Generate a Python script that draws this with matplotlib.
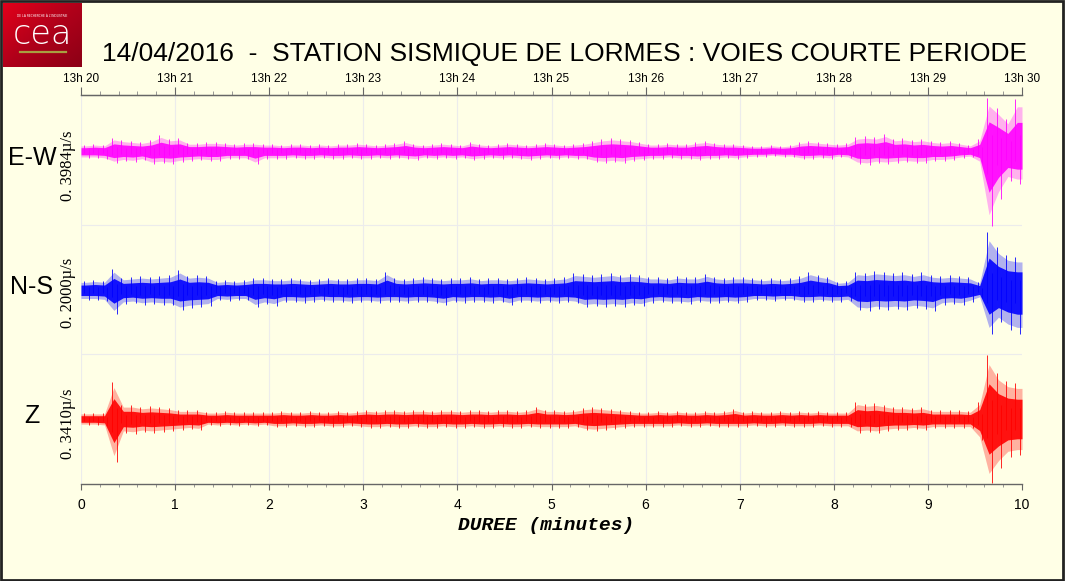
import numpy as np
import matplotlib
matplotlib.use("Agg")
import matplotlib.pyplot as plt
from matplotlib.patches import Rectangle

# envelope of each trace, read per 0.1 min step (display units, + up / - down)
ew_hi = [6, 7, 6, 13, 11, 10, 9, 11, 16, 12,
         13, 8, 8, 9, 9, 8, 7, 8, 8, 7,
         7, 6, 7, 7, 6, 7, 6, 7, 7, 8,
         7, 6, 7, 8, 10, 7, 6, 7, 8, 7,
         6, 9, 7, 6, 7, 8, 7, 6, 7, 8,
         7, 6, 7, 8, 10, 12, 13, 12, 11, 9,
         7, 7, 8, 7, 7, 9, 10, 8, 7, 7,
         6, 5, 5, 6, 5, 6, 9, 10, 9, 8,
         7, 8, 14, 15, 14, 17, 12, 13, 11, 12,
         10, 9, 10, 8, 6, 12, 53, 43, 32, 52]
ew_lo = [7, 7, 8, 12, 10, 11, 9, 13, 12, 13,
         11, 10, 9, 10, 10, 8, 8, 8, 13, 8,
         8, 8, 7, 8, 8, 7, 8, 8, 7, 8,
         8, 7, 8, 7, 8, 9, 7, 8, 7, 8,
         7, 9, 8, 7, 8, 7, 8, 9, 8, 7,
         8, 7, 8, 8, 11, 12, 11, 12, 10, 9,
         8, 8, 7, 8, 8, 9, 8, 8, 7, 8,
         7, 6, 6, 5, 6, 6, 8, 8, 7, 8,
         6, 7, 13, 14, 12, 13, 12, 11, 12, 12,
         10, 10, 9, 7, 6, 12, 75, 48, 30, 33]

ns_hi = [9, 10, 9, 21, 12, 13, 14, 13, 14, 15,
         20, 14, 15, 14, 9, 10, 9, 10, 12, 12,
         11, 11, 12, 11, 10, 11, 12, 11, 11, 12,
         12, 11, 18, 12, 11, 12, 13, 12, 11, 12,
         12, 13, 11, 12, 12, 11, 12, 13, 12, 11,
         12, 13, 17, 16, 15, 16, 17, 15, 16, 15,
         13, 13, 12, 14, 13, 13, 16, 13, 12, 13,
         13, 12, 11, 12, 11, 12, 14, 18, 15, 13,
         8, 9, 18, 17, 19, 18, 17, 18, 16, 18,
         15, 14, 15, 14, 13, 8, 58, 43, 35, 33]
ns_lo = [10, 10, 11, 24, 14, 13, 15, 14, 15, 15,
         20, 18, 17, 16, 10, 11, 10, 10, 17, 14,
         16, 12, 12, 13, 12, 11, 12, 12, 13, 12,
         12, 13, 12, 12, 13, 12, 12, 13, 15, 12,
         13, 12, 12, 13, 12, 15, 12, 12, 13, 12,
         13, 12, 13, 17, 16, 17, 16, 17, 15, 16,
         13, 12, 13, 13, 14, 12, 13, 13, 12, 13,
         12, 10, 10, 11, 10, 10, 12, 12, 11, 12,
         12, 11, 20, 21, 19, 20, 19, 20, 18, 19,
         21, 15, 14, 15, 12, 8, 44, 32, 40, 44]

z_hi = [6, 6, 6, 37, 14, 14, 12, 13, 12, 11,
        9, 9, 9, 7, 7, 8, 7, 7, 7, 7,
        7, 8, 7, 7, 8, 7, 7, 8, 7, 8,
        9, 8, 9, 9, 8, 9, 9, 8, 9, 9,
        8, 9, 9, 8, 9, 9, 8, 9, 12, 9,
        9, 8, 9, 11, 12, 11, 10, 9, 8, 7,
        7, 8, 7, 8, 7, 7, 8, 7, 8, 10,
        7, 8, 7, 7, 8, 7, 8, 7, 8, 7,
        7, 7, 17, 15, 16, 14, 12, 12, 11, 12,
        9, 9, 9, 9, 8, 17, 64, 46, 38, 36]
z_lo = [6, 6, 7, 43, 14, 15, 13, 14, 13, 12,
        11, 10, 11, 6, 7, 6, 7, 6, 7, 6,
        8, 8, 7, 8, 8, 7, 8, 8, 7, 8,
        9, 9, 8, 9, 9, 8, 9, 9, 8, 9,
        9, 8, 9, 9, 8, 9, 9, 8, 9, 9,
        9, 9, 8, 11, 12, 11, 10, 9, 8, 8,
        8, 8, 8, 7, 8, 8, 7, 8, 8, 8,
        8, 7, 8, 8, 7, 8, 8, 8, 7, 8,
        8, 8, 14, 13, 14, 12, 11, 11, 10, 11,
        9, 9, 9, 9, 9, 21, 64, 49, 38, 36]

channels = ["E-W", "N-S", "Z"]
scales = ["0. 3984\u00b5/s", "0. 2000\u00b5/s", "0. 3410\u00b5/s"]
top_labels = ["13h 20", "13h 21", "13h 22", "13h 23", "13h 24", "13h 25",
              "13h 26", "13h 27", "13h 28", "13h 29", "13h 30"]

BG = "#ffffe6"
W, H = 1065, 581
fig = plt.figure(figsize=(W / 100, H / 100), dpi=100, facecolor=BG)

def fx(px):
    return px / W

def fy(py):
    return 1 - py / H

ax = fig.add_axes([fx(81), fy(484), fx(1022) - fx(81), fy(95) - fy(484)])
ax.set_facecolor(BG)
ax.set_xlim(0, 10)
ax.set_ylim(0, 389)

bases = [333, 194, 65]
colors = ["#ff00ff", "#0000ff", "#ff0000"]
traces = [(ew_hi, ew_lo), (ns_hi, ns_lo), (z_hi, z_lo)]

t0 = np.arange(100) * 0.1
tc = np.concatenate([[0.0], t0 + 0.05, [10.0]])
for (hi, lo), base, col in zip(traces, bases, colors):
    hi = np.array(hi, float)
    lo = np.array(lo, float)
    hp = np.concatenate([hi[:1], hi, hi[-1:]])
    lp = np.concatenate([lo[:1], lo, lo[-1:]])
    # light fringe = full envelope, solid core = dense part of the trace
    ax.fill_between(tc, base - lp * 0.85, base + hp * 0.85, color=col,
                    alpha=0.3, lw=0)
    ax.fill_between(tc, base - lp * 0.55, base + hp * 0.55,
                    color=col, alpha=0.9, lw=0)
    # spikes reaching the envelope
    ax.vlines(t0 + 0.03, base - lo * 0.3, base + hi, color=col, lw=0.7,
              alpha=0.85)
    ax.vlines(t0 + 0.08, base - lo, base + hi * 0.3, color=col, lw=0.7,
              alpha=0.85)

# faint grid
for v in range(0, 10):
    ax.axvline(v, color="#ececec", lw=0.8, zorder=0)
for h in (130, 259):
    ax.axhline(h, color="#ececec", lw=0.8, zorder=0)

for s in ("left", "right"):
    ax.spines[s].set_visible(False)
for s in ("top", "bottom"):
    ax.spines[s].set_color("#666666")
    ax.spines[s].set_linewidth(1.0)
ax.set_yticks([])
ax.set_xticks(range(11))
ax.set_xticks(np.arange(0, 10.01, 0.2), minor=True)
ax.tick_params(axis="x", which="major", length=4, color="#666666",
               labelsize=10, pad=6)
ax.tick_params(axis="x", which="minor", length=2, color="#888888")
for lab in ax.get_xticklabels():
    lab.set_family("Liberation Sans")

sec = ax.secondary_xaxis("top")
sec.set_xticks(range(11))
sec.set_xticklabels(top_labels, family="Liberation Sans", fontsize=8.5)
sec.set_xticks(np.arange(0, 10.01, 0.2), minor=True)
sec.tick_params(axis="x", which="major", length=6, color="#666666", pad=1)
sec.tick_params(axis="x", which="minor", length=3, color="#888888")
sec.spines["top"].set_color("#666666")

fig.text(fx(565), fy(54), "14/04/2016  -  STATION SISMIQUE DE LORMES : VOIES COURTE PERIODE",
         ha="center", va="center", fontsize=19, family="Liberation Sans")
fig.text(fx(546), fy(526), "DUREE (minutes)", ha="center", va="center",
         fontsize=14, family="Liberation Mono", weight="bold", style="italic")

for name, sc, cy, ly in zip(channels, scales, [158, 287, 416], [166, 293, 424]):
    fig.text(fx(32), fy(cy), name, ha="center", va="center", fontsize=18,
             family="Liberation Sans")
    fig.text(fx(68), fy(ly), sc, ha="center", va="center", rotation=90,
             fontsize=12, family="Liberation Serif")

# logo
lax = fig.add_axes([fx(3), fy(67), fx(82) - fx(3), fy(3) - fy(67)])
grad = np.linspace(0, 1, 64)
gx, gy = np.meshgrid(grad, grad)
lax.imshow(gx + gy, cmap=matplotlib.colors.LinearSegmentedColormap.from_list(
    "cea", ["#e2001a", "#b0001a", "#8c0016"]), aspect="auto",
    extent=(0, 1, 0, 1), origin="upper")
lax.text(0.5, 0.50, "cea", color="white", fontsize=24, ha="center",
         va="center", family="DejaVu Sans", weight="light")
lax.text(0.5, 0.80, "DE LA RECHERCHE \u00c0 L'INDUSTRIE", color="white",
         fontsize=2.2, ha="center", va="center")
lax.plot([0.22, 0.8], [0.24, 0.24], color="#a8a040", lw=1.6)
lax.set_xlim(0, 1)
lax.set_ylim(0, 1)
lax.axis("off")

fig.patches.append(Rectangle((0.001, 0.002), 0.997, 0.996, transform=fig.transFigure,
                             fill=False, edgecolor="#222222", lw=2))

fig.savefig("out.png", dpi=100, facecolor=BG)
